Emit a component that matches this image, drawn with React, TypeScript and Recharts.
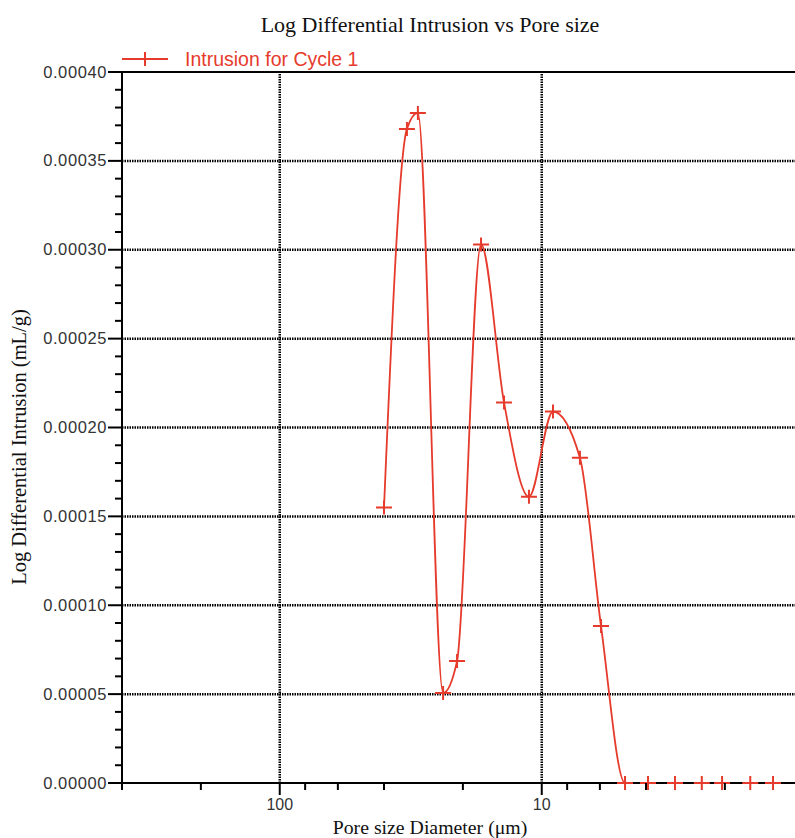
import React from 'react';
import { LineChart, Line, XAxis, YAxis, ReferenceLine, Legend, Label } from 'recharts';

const RED = '#e63b2c';

// Pore size diameter (µm) and log differential intrusion (mL/g)
const poreSize = [40, 32.7, 29.7, 23.8, 21.05, 17.05, 13.93, 11.19, 9.06, 7.15, 5.94, 4.81, 3.93, 3.1, 2.45, 2.05, 1.6, 1.31];
const intrusion = [0.000155, 0.000368, 0.000377, 0.0000506, 0.0000686, 0.000303, 0.000214, 0.000161, 0.000209, 0.000183, 0.0000883, 0, 0, 0, 0, 0, 0, 0];

const xTicks = [400, 200, 100, 80, 60, 40, 20, 10, 8, 6, 4, 2];
const xLabeledTicks = [100, 10];
const xGridValues = [100, 10];
const yMajorTicks = [0, 0.00005, 0.0001, 0.00015, 0.0002, 0.00025, 0.0003, 0.00035, 0.0004];
const yMinorStep = 0.00001;
const yTicks = Array.from({ length: 41 }, (_, i) => +(i * yMinorStep).toFixed(6));

const data = poreSize.map((d, i) => ({ d, v: intrusion[i] }));

const CHART_W = 795;
const CHART_H = 838;
const AXIS_X = 122;
const X_AXIS_H = 55;
const AXIS_Y = CHART_H - X_AXIS_H;
const TOP = 72;

const XTick = (props: any) => {
  const { x, payload } = props;
  const v = payload.value;
  const labeled = xLabeledTicks.includes(v);
  const len = labeled ? 12 : 7;
  return (
    <g>
      <line x1={x} x2={x} y1={AXIS_Y} y2={AXIS_Y + len} stroke="#000" strokeWidth={2} />
      {labeled && (
        <text x={x} y={AXIS_Y + 27} textAnchor="middle" fontFamily="'Liberation Sans', Arial, sans-serif" fontSize={16} fill="#333">
          {v}
        </text>
      )}
    </g>
  );
};

const YTick = (props: any) => {
  const { y, payload } = props;
  const v = payload.value;
  const major = Math.round(v / yMinorStep) % 5 === 0;
  const len = major ? 14 : 7;
  return (
    <g>
      <line x1={AXIS_X - len} x2={AXIS_X} y1={y} y2={y} stroke="#000" strokeWidth={2} />
      {major && (
        <text x={AXIS_X - 15} y={y} dy={5.5} textAnchor="end" fontFamily="'Liberation Sans', Arial, sans-serif" fontSize={16.5} letterSpacing={0.6} fill="#333">
          {v.toFixed(5)}
        </text>
      )}
    </g>
  );
};

const PlusDot = (props: any) => {
  const { cx, cy, index } = props;
  if (cx == null || cy == null) return <g key={`dot-${index}`} />;
  return (
    <path
      key={`dot-${index}`}
      d={`M${cx - 8},${cy}H${cx + 8}M${cx},${cy - 7}V${cy + 7}`}
      stroke={RED}
      strokeWidth={2}
      fill="none"
    />
  );
};

const renderLegend = () => (
  <svg width={300} height={28} style={{ display: 'block' }}>
    <line x1={4} x2={50} y1={15} y2={15} stroke={RED} strokeWidth={2} />
    <path d="M27,8V22" stroke={RED} strokeWidth={2} />
    <text x={67} y={22} fontFamily="'Liberation Sans', Arial, sans-serif" fontSize={19.5} fill={RED}>
      Intrusion for Cycle 1
    </text>
  </svg>
);

const gridStyle = { stroke: '#000', strokeWidth: 2.5, strokeDasharray: '1.5 1' };

export default function App() {
  return (
    <div style={{ position: 'absolute', left: 0, top: 0, width: CHART_W, height: CHART_H, background: '#fff', overflow: 'hidden' }}>
      <div
        style={{
          position: 'absolute',
          left: 180,
          width: 500,
          top: 14,
          textAlign: 'center',
          fontFamily: "'Liberation Serif', 'Times New Roman', serif",
          fontSize: 22,
          lineHeight: '22px',
          color: '#111',
        }}
      >
        Log Differential Intrusion vs Pore size
      </div>
      <LineChart width={CHART_W} height={CHART_H} data={data} margin={{ top: TOP, right: 0, bottom: 0, left: 0 }}>
        <XAxis
          dataKey="d"
          type="number"
          scale="log"
          domain={[1.08, 400]}
          reversed
          allowDataOverflow
          ticks={xTicks}
          interval={0}
          height={X_AXIS_H}
          axisLine={{ stroke: '#000', strokeWidth: 2 }}
          tickLine={false}
          tick={<XTick />}
        >
          <Label
            content={() => (
              <text x={430} y={834} textAnchor="middle" fontFamily="'Liberation Serif', 'Times New Roman', serif" fontSize={19.8} fill="#111">
                Pore size Diameter (μm)
              </text>
            )}
          />
        </XAxis>
        <YAxis
          type="number"
          domain={[0, 0.0004]}
          ticks={yTicks}
          interval={0}
          width={AXIS_X}
          axisLine={{ stroke: '#000', strokeWidth: 2 }}
          tickLine={false}
          tick={<YTick />}
        >
          <Label
            content={() => (
              <text
                x={26}
                y={447}
                transform="rotate(-90 26 447)"
                textAnchor="middle"
                fontFamily="'Liberation Serif', 'Times New Roman', serif"
                fontSize={20.5}
                fill="#111"
              >
                Log Differential Intrusion (mL/g)
              </text>
            )}
          />
        </YAxis>
        {yMajorTicks.slice(1, -1).map((v) => (
          <ReferenceLine key={`h-${v}`} y={v} {...gridStyle} />
        ))}
        {xGridValues.map((v) => (
          <ReferenceLine key={`v-${v}`} x={v} {...gridStyle} />
        ))}
        <ReferenceLine y={0.0004} stroke="#000" strokeWidth={2} />
        <Legend
          layout="horizontal"
          verticalAlign="middle"
          align="center"
          content={renderLegend}
          wrapperStyle={{ position: 'absolute', top: 44, left: 118, width: 300, height: 28 }}
        />
        <Line
          type="monotone"
          dataKey="v"
          stroke={RED}
          strokeWidth={1.8}
          dot={PlusDot}
          activeDot={false}
          isAnimationActive={false}
          legendType="none"
        />
      </LineChart>
    </div>
  );
}
